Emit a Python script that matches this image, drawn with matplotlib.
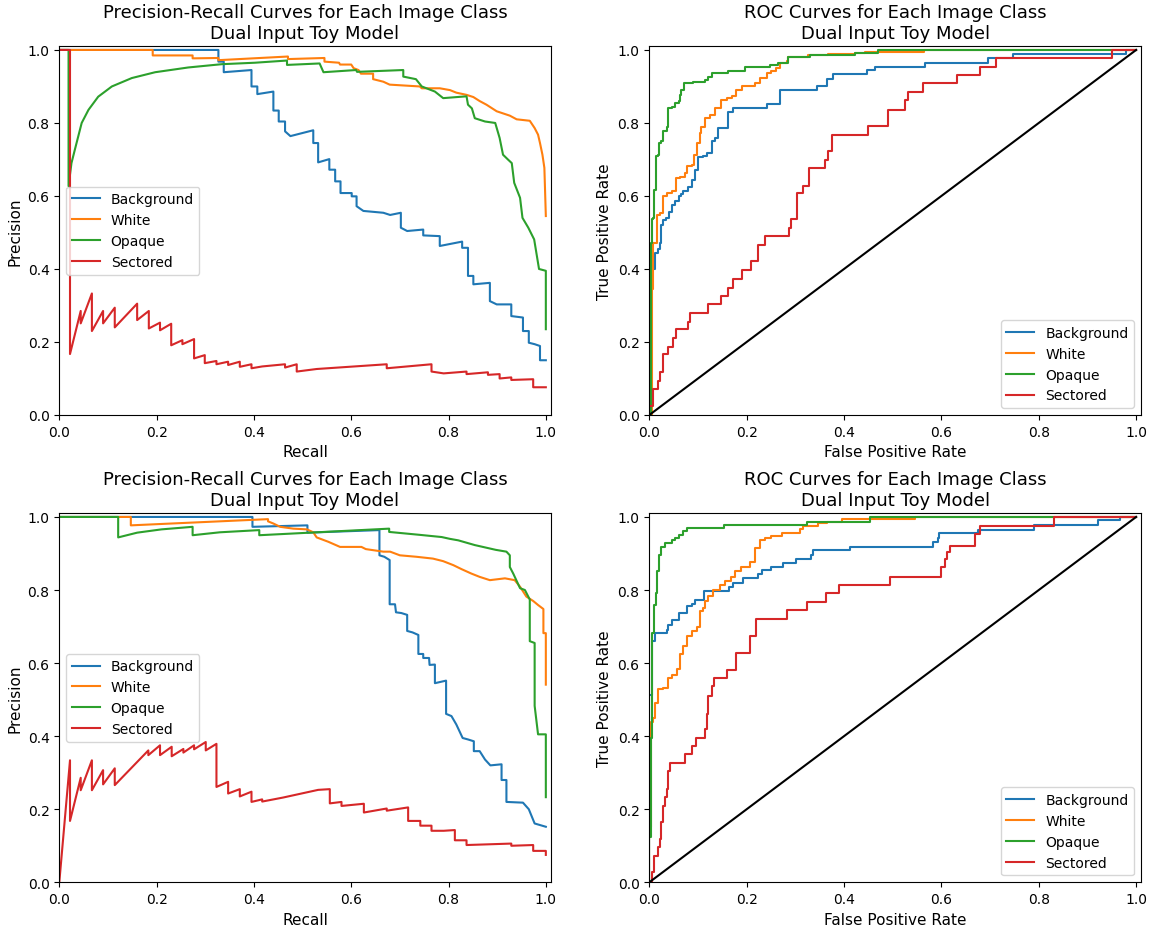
import matplotlib
matplotlib.use("Agg")
import matplotlib.pyplot as plt

classes = ["Background", "White", "Opaque", "Sectored"]
colors = ["tab:blue", "tab:orange", "tab:green", "tab:red"]

pr_title = "Precision-Recall Curves for Each Image Class\nDual Input Toy Model"
roc_title = "ROC Curves for Each Image Class\nDual Input Toy Model"

# ---- Precision-recall, upper panel ----
pr_a_background_recall = [0, 0.327, 0.327, 0.338, 0.338, 0.395, 0.395, 0.407, 0.407, 0.440, 0.440, 0.451, 0.451, 0.464, 0.464, 0.475, 0.522, 0.522, 0.532, 0.532, 0.555, 0.555, 0.567, 0.567, 0.578, 0.578, 0.601, 0.601, 0.611, 0.611, 0.625, 0.666, 0.680, 0.702, 0.702, 0.715, 0.748, 0.748, 0.782, 0.782, 0.828, 0.828, 0.840, 0.840, 0.851, 0.851, 0.885, 0.885, 0.899, 0.929, 0.929, 0.953, 0.953, 0.965, 0.965, 0.977, 0.988, 0.988, 1.0]
pr_a_background_precision = [1.0, 1.0, 0.968, 0.968, 0.939, 0.945, 0.900, 0.900, 0.879, 0.886, 0.834, 0.834, 0.804, 0.804, 0.777, 0.764, 0.780, 0.745, 0.745, 0.692, 0.701, 0.672, 0.672, 0.640, 0.640, 0.608, 0.608, 0.599, 0.599, 0.572, 0.559, 0.554, 0.548, 0.554, 0.513, 0.504, 0.508, 0.492, 0.490, 0.463, 0.475, 0.458, 0.458, 0.381, 0.381, 0.358, 0.362, 0.312, 0.303, 0.303, 0.271, 0.267, 0.230, 0.230, 0.198, 0.194, 0.189, 0.150, 0.150]

pr_a_white_recall = [0, 0.192, 0.192, 0.274, 0.274, 0.327, 0.327, 0.470, 0.470, 0.545, 0.545, 0.575, 0.577, 0.600, 0.605, 0.615, 0.620, 0.645, 0.645, 0.666, 0.679, 0.741, 0.745, 0.782, 0.803, 0.816, 0.837, 0.851, 0.864, 0.878, 0.899, 0.926, 0.940, 0.967, 0.977, 0.984, 0.988, 0.993, 0.997, 1.0]
pr_a_white_precision = [1.0, 1.0, 0.985, 0.985, 0.977, 0.978, 0.972, 0.982, 0.975, 0.978, 0.968, 0.965, 0.960, 0.960, 0.950, 0.945, 0.935, 0.935, 0.920, 0.913, 0.905, 0.900, 0.895, 0.895, 0.890, 0.883, 0.877, 0.871, 0.860, 0.850, 0.832, 0.820, 0.810, 0.806, 0.786, 0.768, 0.745, 0.713, 0.677, 0.545]

pr_a_opaque_recall = [0, 0.019, 0.019, 0.025, 0.032, 0.046, 0.060, 0.080, 0.108, 0.149, 0.197, 0.265, 0.334, 0.402, 0.468, 0.468, 0.535, 0.543, 0.610, 0.612, 0.707, 0.707, 0.733, 0.745, 0.772, 0.789, 0.837, 0.840, 0.848, 0.854, 0.875, 0.896, 0.905, 0.912, 0.922, 0.930, 0.935, 0.947, 0.952, 0.964, 0.976, 0.986, 1.0, 1.0]
pr_a_opaque_precision = [1.0, 1.0, 0.627, 0.690, 0.727, 0.800, 0.836, 0.872, 0.900, 0.923, 0.939, 0.952, 0.961, 0.965, 0.971, 0.959, 0.963, 0.939, 0.945, 0.940, 0.945, 0.927, 0.920, 0.900, 0.886, 0.868, 0.873, 0.850, 0.840, 0.813, 0.804, 0.800, 0.759, 0.713, 0.700, 0.690, 0.636, 0.595, 0.540, 0.513, 0.481, 0.400, 0.395, 0.235]

pr_a_sectored_recall = [0, 0.022, 0.022, 0.044, 0.044, 0.067, 0.067, 0.090, 0.090, 0.114, 0.114, 0.160, 0.160, 0.184, 0.184, 0.207, 0.207, 0.230, 0.230, 0.253, 0.253, 0.277, 0.277, 0.299, 0.299, 0.323, 0.323, 0.347, 0.347, 0.371, 0.371, 0.395, 0.395, 0.417, 0.464, 0.464, 0.488, 0.488, 0.529, 0.673, 0.673, 0.765, 0.765, 0.790, 0.837, 0.837, 0.881, 0.881, 0.905, 0.905, 0.929, 0.929, 0.974, 0.974, 1.0]
pr_a_sectored_precision = [1.0, 1.0, 0.167, 0.285, 0.251, 0.333, 0.230, 0.285, 0.251, 0.294, 0.240, 0.305, 0.260, 0.285, 0.237, 0.253, 0.232, 0.250, 0.191, 0.205, 0.194, 0.208, 0.155, 0.164, 0.142, 0.148, 0.139, 0.146, 0.137, 0.146, 0.132, 0.139, 0.128, 0.133, 0.139, 0.130, 0.139, 0.119, 0.126, 0.139, 0.128, 0.139, 0.119, 0.114, 0.119, 0.112, 0.117, 0.110, 0.112, 0.100, 0.103, 0.096, 0.098, 0.076, 0.076]

# ---- Precision-recall, lower panel ----
pr_b_background_recall = [0, 0.397, 0.397, 0.510, 0.510, 0.658, 0.658, 0.668, 0.679, 0.679, 0.690, 0.692, 0.703, 0.715, 0.715, 0.726, 0.738, 0.738, 0.748, 0.748, 0.760, 0.761, 0.772, 0.772, 0.795, 0.795, 0.806, 0.816, 0.829, 0.840, 0.852, 0.852, 0.864, 0.875, 0.886, 0.909, 0.909, 0.919, 0.919, 0.953, 0.965, 0.977, 1.0]
pr_b_background_precision = [1.0, 1.0, 0.973, 0.977, 0.957, 0.964, 0.895, 0.891, 0.882, 0.761, 0.761, 0.739, 0.737, 0.732, 0.688, 0.684, 0.677, 0.625, 0.625, 0.614, 0.614, 0.595, 0.596, 0.545, 0.552, 0.461, 0.455, 0.432, 0.395, 0.391, 0.386, 0.359, 0.359, 0.336, 0.320, 0.323, 0.280, 0.280, 0.220, 0.218, 0.200, 0.161, 0.152]

pr_b_white_recall = [0, 0.147, 0.147, 0.429, 0.429, 0.440, 0.454, 0.481, 0.509, 0.522, 0.529, 0.553, 0.577, 0.621, 0.630, 0.666, 0.680, 0.700, 0.734, 0.768, 0.789, 0.810, 0.827, 0.847, 0.864, 0.885, 0.916, 0.936, 0.947, 0.960, 0.974, 0.984, 0.995, 0.995, 1.0, 1.0]
pr_b_white_precision = [1.0, 1.0, 0.977, 0.994, 0.988, 0.982, 0.973, 0.968, 0.966, 0.958, 0.944, 0.932, 0.918, 0.918, 0.912, 0.905, 0.905, 0.895, 0.891, 0.886, 0.879, 0.868, 0.857, 0.845, 0.836, 0.827, 0.832, 0.827, 0.809, 0.782, 0.770, 0.759, 0.748, 0.682, 0.682, 0.541]

pr_b_opaque_recall = [0, 0.121, 0.121, 0.160, 0.210, 0.274, 0.274, 0.330, 0.411, 0.411, 0.678, 0.678, 0.741, 0.786, 0.803, 0.820, 0.854, 0.897, 0.919, 0.926, 0.926, 0.933, 0.947, 0.957, 0.967, 0.967, 0.977, 0.977, 0.984, 1.0, 1.0]
pr_b_opaque_precision = [1.0, 1.0, 0.944, 0.957, 0.966, 0.973, 0.950, 0.958, 0.964, 0.950, 0.968, 0.959, 0.951, 0.945, 0.940, 0.936, 0.923, 0.910, 0.905, 0.895, 0.863, 0.845, 0.805, 0.800, 0.774, 0.660, 0.655, 0.483, 0.405, 0.405, 0.233]

pr_b_sectored_recall = [0, 0.022, 0.022, 0.044, 0.044, 0.067, 0.067, 0.090, 0.090, 0.114, 0.114, 0.183, 0.183, 0.207, 0.207, 0.231, 0.231, 0.255, 0.255, 0.277, 0.277, 0.301, 0.301, 0.323, 0.323, 0.347, 0.347, 0.371, 0.371, 0.395, 0.395, 0.417, 0.417, 0.460, 0.532, 0.556, 0.556, 0.580, 0.580, 0.626, 0.626, 0.673, 0.673, 0.717, 0.717, 0.742, 0.742, 0.765, 0.765, 0.790, 0.813, 0.813, 0.837, 0.837, 0.929, 0.929, 0.974, 0.974, 1.0, 1.0]
pr_b_sectored_precision = [0.0, 0.334, 0.168, 0.286, 0.252, 0.334, 0.252, 0.307, 0.268, 0.312, 0.266, 0.361, 0.348, 0.375, 0.348, 0.371, 0.345, 0.365, 0.355, 0.375, 0.364, 0.384, 0.361, 0.379, 0.261, 0.275, 0.243, 0.255, 0.235, 0.248, 0.220, 0.227, 0.221, 0.232, 0.253, 0.255, 0.216, 0.220, 0.209, 0.215, 0.191, 0.202, 0.196, 0.205, 0.168, 0.168, 0.155, 0.155, 0.141, 0.141, 0.143, 0.115, 0.115, 0.102, 0.106, 0.100, 0.102, 0.086, 0.086, 0.075]

# ---- ROC, upper panel (corner points: at each FPR the TPR rises to the listed value) ----
roc_a_background_fpr = [0, 0, 0.004, 0.012, 0.017, 0.022, 0.025, 0.029, 0.035, 0.040, 0.046, 0.052, 0.060, 0.065, 0.070, 0.080, 0.087, 0.094, 0.100, 0.110, 0.118, 0.128, 0.135, 0.142, 0.161, 0.172, 0.241, 0.268, 0.345, 0.364, 0.378, 0.448, 0.463, 0.566, 0.695, 0.747, 0.980, 1.0]
roc_a_background_tpr = [0, 0.33, 0.40, 0.445, 0.455, 0.47, 0.52, 0.535, 0.54, 0.555, 0.576, 0.585, 0.60, 0.605, 0.613, 0.625, 0.645, 0.672, 0.708, 0.71, 0.718, 0.75, 0.76, 0.786, 0.831, 0.841, 0.852, 0.891, 0.90, 0.92, 0.934, 0.945, 0.954, 0.965, 0.977, 0.989, 1.0, 1.0]

roc_a_white_fpr = [0, 0.005, 0.008, 0.015, 0.022, 0.029, 0.036, 0.046, 0.054, 0.063, 0.073, 0.077, 0.087, 0.092, 0.097, 0.104, 0.107, 0.114, 0.125, 0.135, 0.148, 0.159, 0.169, 0.179, 0.190, 0.217, 0.227, 0.241, 0.251, 0.261, 0.268, 0.282, 0.285, 0.326, 0.367, 0.422, 0.443, 0.564, 1.0]
roc_a_white_tpr = [0, 0.344, 0.472, 0.549, 0.553, 0.60, 0.609, 0.613, 0.649, 0.653, 0.663, 0.681, 0.685, 0.713, 0.745, 0.772, 0.79, 0.813, 0.822, 0.841, 0.863, 0.868, 0.874, 0.891, 0.902, 0.909, 0.923, 0.936, 0.941, 0.95, 0.963, 0.970, 0.982, 0.986, 0.989, 0.991, 0.995, 1.0, 1.0]

roc_a_opaque_fpr = [0, 0.003, 0.005, 0.008, 0.010, 0.014, 0.017, 0.020, 0.025, 0.029, 0.036, 0.038, 0.046, 0.053, 0.060, 0.063, 0.066, 0.072, 0.090, 0.114, 0.121, 0.128, 0.162, 0.196, 0.248, 0.265, 0.285, 0.330, 0.422, 0.470, 1.0]
roc_a_opaque_tpr = [0, 0.472, 0.536, 0.540, 0.617, 0.709, 0.713, 0.745, 0.750, 0.777, 0.79, 0.841, 0.845, 0.856, 0.86, 0.877, 0.891, 0.909, 0.913, 0.918, 0.927, 0.936, 0.941, 0.952, 0.959, 0.965, 0.98, 0.986, 0.992, 1.0, 1.0]

roc_a_sectored_fpr = [0, 0, 0.008, 0.018, 0.022, 0.029, 0.038, 0.049, 0.055, 0.080, 0.084, 0.121, 0.148, 0.161, 0.172, 0.191, 0.209, 0.224, 0.237, 0.287, 0.292, 0.304, 0.316, 0.328, 0.361, 0.367, 0.376, 0.449, 0.490, 0.525, 0.532, 0.562, 0.633, 0.680, 0.713, 0.950, 1.0]
roc_a_sectored_tpr = [0, 0.025, 0.071, 0.094, 0.117, 0.167, 0.185, 0.212, 0.235, 0.255, 0.28, 0.303, 0.326, 0.349, 0.372, 0.397, 0.422, 0.465, 0.49, 0.513, 0.536, 0.607, 0.627, 0.677, 0.698, 0.722, 0.768, 0.791, 0.836, 0.862, 0.886, 0.909, 0.932, 0.954, 0.977, 1.0, 1.0]

# ---- ROC, lower panel ----
roc_b_background_fpr = [0, 0, 0.005, 0.012, 0.036, 0.039, 0.046, 0.060, 0.077, 0.087, 0.094, 0.112, 0.164, 0.172, 0.192, 0.224, 0.232, 0.251, 0.274, 0.302, 0.333, 0.336, 0.413, 0.583, 0.593, 0.596, 0.675, 0.790, 0.921, 0.966, 1.0]
roc_b_background_tpr = [0, 0.514, 0.66, 0.682, 0.69, 0.705, 0.718, 0.737, 0.755, 0.762, 0.773, 0.797, 0.809, 0.818, 0.832, 0.845, 0.855, 0.864, 0.875, 0.886, 0.897, 0.909, 0.918, 0.932, 0.943, 0.955, 0.964, 0.977, 0.991, 1.0, 1.0]

roc_b_white_fpr = [0, 0, 0.003, 0.008, 0.012, 0.017, 0.029, 0.039, 0.046, 0.056, 0.063, 0.070, 0.077, 0.087, 0.097, 0.104, 0.111, 0.114, 0.121, 0.131, 0.145, 0.155, 0.168, 0.176, 0.188, 0.207, 0.217, 0.227, 0.237, 0.251, 0.272, 0.309, 0.316, 0.347, 0.364, 0.395, 0.545, 1.0]
roc_b_white_tpr = [0, 0.15, 0.44, 0.45, 0.49, 0.528, 0.533, 0.56, 0.567, 0.583, 0.624, 0.646, 0.674, 0.687, 0.70, 0.742, 0.751, 0.769, 0.785, 0.80, 0.815, 0.824, 0.837, 0.851, 0.862, 0.876, 0.915, 0.937, 0.942, 0.949, 0.955, 0.967, 0.974, 0.983, 0.987, 0.995, 1.0, 1.0]

roc_b_opaque_fpr = [0, 0, 0.003, 0.005, 0.006, 0.010, 0.013, 0.016, 0.020, 0.025, 0.032, 0.046, 0.053, 0.060, 0.070, 0.077, 0.154, 0.323, 0.453, 1.0]
roc_b_opaque_tpr = [0, 0.124, 0.396, 0.551, 0.683, 0.76, 0.792, 0.851, 0.896, 0.919, 0.928, 0.937, 0.942, 0.951, 0.962, 0.969, 0.978, 0.985, 1.0, 1.0]

roc_b_sectored_fpr = [0, 0.005, 0.010, 0.017, 0.022, 0.025, 0.029, 0.032, 0.036, 0.038, 0.043, 0.073, 0.087, 0.096, 0.114, 0.118, 0.121, 0.129, 0.133, 0.160, 0.178, 0.207, 0.220, 0.282, 0.323, 0.362, 0.389, 0.494, 0.600, 0.607, 0.612, 0.617, 0.670, 0.680, 0.832, 1.0]
roc_b_sectored_tpr = [0, 0.028, 0.071, 0.096, 0.119, 0.165, 0.21, 0.233, 0.255, 0.305, 0.327, 0.352, 0.373, 0.396, 0.42, 0.46, 0.509, 0.537, 0.559, 0.582, 0.627, 0.675, 0.721, 0.745, 0.766, 0.791, 0.814, 0.836, 0.862, 0.885, 0.905, 0.92, 0.953, 0.976, 1.0, 1.0]

pr_a = [(pr_a_background_recall, pr_a_background_precision),
        (pr_a_white_recall, pr_a_white_precision),
        (pr_a_opaque_recall, pr_a_opaque_precision),
        (pr_a_sectored_recall, pr_a_sectored_precision)]
pr_b = [(pr_b_background_recall, pr_b_background_precision),
        (pr_b_white_recall, pr_b_white_precision),
        (pr_b_opaque_recall, pr_b_opaque_precision),
        (pr_b_sectored_recall, pr_b_sectored_precision)]
roc_a = [(roc_a_background_fpr, roc_a_background_tpr),
         (roc_a_white_fpr, roc_a_white_tpr),
         (roc_a_opaque_fpr, roc_a_opaque_tpr),
         (roc_a_sectored_fpr, roc_a_sectored_tpr)]
roc_b = [(roc_b_background_fpr, roc_b_background_tpr),
         (roc_b_white_fpr, roc_b_white_tpr),
         (roc_b_opaque_fpr, roc_b_opaque_tpr),
         (roc_b_sectored_fpr, roc_b_sectored_tpr)]

W, H = 1152, 928
fig = plt.figure(figsize=(W / 100, H / 100), dpi=100)


def make_axes(left, top, right, bottom):
    return fig.add_axes([left / W, 1 - bottom / H, (right - left) / W, (bottom - top) / H])


def draw_pr(ax, curves):
    for (rec, prec), name, c in zip(curves, classes, colors):
        ax.plot(rec, prec, color=c, lw=1.5, label=name)
    ax.set_xlim(0.0, 1.01)
    ax.set_ylim(0.0, 1.01)
    ax.set_xlabel("Recall", fontsize=11)
    ax.set_ylabel("Precision", fontsize=11)
    ax.set_title(pr_title, fontsize=13)
    ax.legend(loc="center left", fontsize=10)


def draw_roc(ax, curves):
    for (fpr, tpr), name, c in zip(curves, classes, colors):
        ax.plot(fpr, tpr, color=c, lw=1.5, drawstyle="steps-post", label=name)
    ax.plot([0, 1], [0, 1], color="k", lw=1.5)
    ax.set_xlim(0.0, 1.01)
    ax.set_ylim(0.0, 1.01)
    ax.set_xlabel("False Positive Rate", fontsize=11)
    ax.set_ylabel("True Positive Rate", fontsize=11)
    ax.set_title(roc_title, fontsize=13)
    ax.legend(loc="lower right", fontsize=10)


draw_pr(make_axes(59.3, 47.3, 550.7, 416.0), pr_a)
draw_roc(make_axes(649.3, 47.3, 1141.0, 416.0), roc_a)
draw_pr(make_axes(59.3, 514.3, 550.7, 883.3), pr_b)
draw_roc(make_axes(649.3, 514.3, 1141.0, 883.3), roc_b)

fig.savefig("out.png", dpi=100)
